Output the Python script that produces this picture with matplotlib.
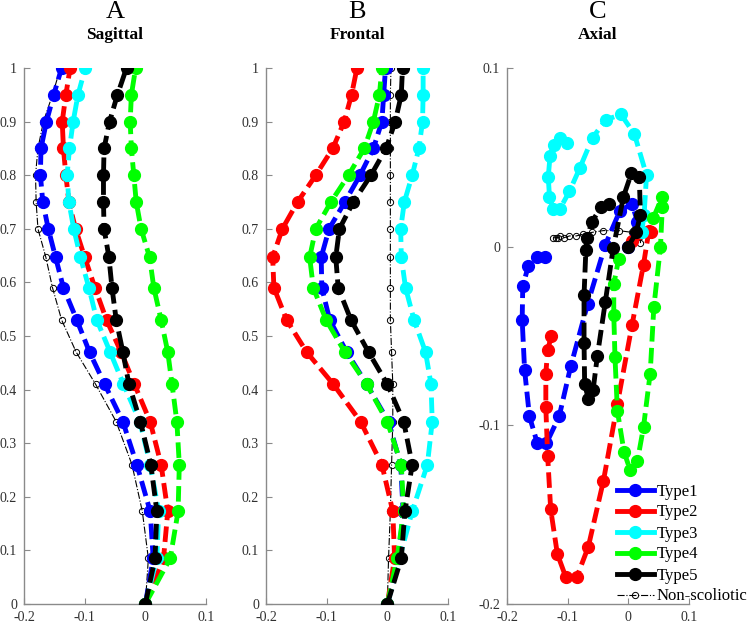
import os
import matplotlib
matplotlib.use("Agg")
import matplotlib.pyplot as plt
from matplotlib import font_manager
from matplotlib.lines import Line2D

# look for a Times-like serif face on the system and register it
serif_names = []
for path in font_manager.findSystemFonts():
    base = os.path.basename(path).lower()
    if ('liberationserif' in base or 'times' in base or 'nimbusroman' in base
            or 'dejavuserif' in base or ('serif' in base and 'sans' not in base)):
        try:
            font_manager.fontManager.addfont(path)
            name = font_manager.FontProperties(fname=path).get_name()
            if name not in serif_names:
                serif_names.append(name)
        except Exception:
            pass
pref = ['Liberation Serif', 'Times New Roman', 'Nimbus Roman', 'DejaVu Serif']
serif_pick = [n for n in pref if n in serif_names] or serif_names[:1]
plt.rcParams['font.family'] = serif_pick + ['DejaVu Sans']
plt.rcParams['axes.unicode_minus'] = False

# normalised height levels (bottom -> top)
levels = [0, 0.085, 0.173, 0.26, 0.34, 0.41, 0.47, 0.53, 0.59, 0.647,
          0.70, 0.75, 0.80, 0.85, 0.90, 0.95, 1.0]

# Sagittal
sag_type1 = [0, 0.013, 0.008, -0.014, -0.037, -0.067, -0.092, -0.113, -0.135, -0.148,
             -0.160, -0.169, -0.173, -0.172, -0.163, -0.151, -0.138]
sag_type2 = [0, 0.030, 0.037, 0.026, 0.008, -0.018, -0.040, -0.064, -0.083, -0.100,
             -0.115, -0.126, -0.131, -0.135, -0.137, -0.131, -0.124]
sag_type3 = [0, 0.019, 0.022, 0.008, -0.009, -0.036, -0.058, -0.080, -0.093, -0.107,
             -0.118, -0.126, -0.129, -0.125, -0.119, -0.111, -0.099]
sag_type4 = [0, 0.041, 0.054, 0.056, 0.052, 0.044, 0.037, 0.026, 0.014, 0.007,
             -0.007, -0.015, -0.019, -0.023, -0.025, -0.023, -0.016]
sag_type5 = [0, 0.016, 0.019, 0.009, -0.008, -0.027, -0.037, -0.048, -0.055, -0.060,
             -0.068, -0.069, -0.069, -0.068, -0.059, -0.046, -0.031]
sag_normal = [0, 0.005, -0.005, -0.022, -0.048, -0.082, -0.114, -0.138, -0.153, -0.164,
              -0.177, -0.180, -0.181, -0.177, -0.168, -0.153, -0.140]

# Frontal
fro_type1 = [0, 0.019, 0.026, 0.022, 0.002, -0.034, -0.067, -0.095, -0.108, -0.109,
             -0.096, -0.070, -0.045, -0.023, -0.009, -0.006, -0.003]
fro_type2 = [0, 0.012, 0.009, -0.009, -0.044, -0.089, -0.133, -0.166, -0.187, -0.189,
             -0.173, -0.148, -0.118, -0.090, -0.071, -0.059, -0.050]
fro_type3 = [0, 0.020, 0.041, 0.066, 0.074, 0.072, 0.063, 0.044, 0.030, 0.023,
             0.022, 0.028, 0.041, 0.052, 0.058, 0.059, 0.059]
fro_type4 = [0, 0.016, 0.027, 0.023, 0.000, -0.034, -0.070, -0.101, -0.122, -0.128,
             -0.118, -0.093, -0.064, -0.038, -0.023, -0.013, -0.009]
fro_type5 = [0, 0.023, 0.029, 0.041, 0.027, 0.000, -0.031, -0.060, -0.081, -0.085,
             -0.079, -0.056, -0.027, -0.002, 0.013, 0.023, 0.025]
fro_normal = [0, 0.002, 0.005, 0.007, 0.009, 0.009, 0.007, 0.005, 0.005, 0.005,
              0.005, 0.005, 0.005, 0.005, 0.005, 0.005, 0.006]

# Axial (x, y pairs)
axi_type1_x = [0.000, 0.015, 0.006, -0.014, -0.038, -0.067, -0.095, -0.114, -0.135,
               -0.150, -0.163, -0.171, -0.175, -0.174, -0.165, -0.151, -0.138]
axi_type1_y = [0.000, 0.014, 0.024, 0.020, 0.001, -0.032, -0.067, -0.095, -0.110,
               -0.110, -0.095, -0.069, -0.041, -0.022, -0.011, -0.006, -0.006]
axi_type2_x = [0.006, 0.038, 0.034, 0.025, 0.006, -0.018, -0.041, -0.066, -0.085,
               -0.103, -0.117, -0.128, -0.133, -0.136, -0.136, -0.133, -0.127]
axi_type2_y = [0.003, 0.008, 0.009, -0.010, -0.044, -0.088, -0.131, -0.168, -0.185,
               -0.185, -0.172, -0.147, -0.117, -0.090, -0.071, -0.058, -0.050]
axi_type3_x = [0.022, 0.026, 0.030, 0.010, -0.012, -0.037, -0.059, -0.080, -0.097,
               -0.113, -0.124, -0.130, -0.132, -0.129, -0.123, -0.113, -0.101]
axi_type3_y = [0.008, 0.018, 0.040, 0.063, 0.074, 0.071, 0.061, 0.044, 0.031,
               0.021, 0.021, 0.028, 0.039, 0.051, 0.057, 0.061, 0.058]
axi_type4_x = [0.041, 0.056, 0.056, 0.053, 0.042, 0.036, 0.025, 0.015, 0.003,
               -0.007, -0.018, -0.022, -0.024, -0.024, -0.016]
axi_type4_y = [0.016, 0.028, 0.022, 0.000, -0.034, -0.071, -0.101, -0.120, -0.125,
               -0.115, -0.092, -0.062, -0.038, -0.021, -0.007]
axi_type5_x = [0.000, 0.013, 0.020, 0.018, 0.005, -0.008, -0.025, -0.038, -0.051, -0.058,
               -0.066, -0.072, -0.073, -0.073, -0.070, -0.068, -0.060, -0.045, -0.032]
axi_type5_y = [0.000, 0.008, 0.018, 0.039, 0.041, 0.028, -0.001, -0.031, -0.061, -0.080,
               -0.085, -0.077, -0.054, -0.027, -0.002, 0.005, 0.014, 0.022, 0.024]
axi_normal_x = [-0.124, -0.120, -0.116, -0.112, -0.106, -0.097, -0.086, -0.074, -0.060,
                -0.041, -0.016, 0.006, 0.020, 0.020]
axi_normal_y = [0.005, 0.005, 0.005, 0.006, 0.005, 0.006, 0.006, 0.007, 0.008,
                0.009, 0.009, 0.008, 0.006, 0.002]

type_names = ['Type1', 'Type2', 'Type3', 'Type4', 'Type5']
normal_name = 'Non-scoliotic'
type_colors = ['#0000ff', '#ff0000', '#00ffff', '#00ff00', '#000000']

xticks = [-0.2, -0.1, 0, 0.1]
xtick_labels = ['-0.2', '-0.1', '0', '0.1']
yticks_ab = [0, 0.1, 0.2, 0.3, 0.4, 0.5, 0.6, 0.7, 0.8, 0.9, 1]
ytick_labels_ab = ['0', '0.1', '0.2', '0.3', '0.4', '0.5', '0.6', '0.7', '0.8', '0.9', '1']
yticks_c = [-0.2, -0.1, 0, 0.1]
ytick_labels_c = ['-0.2', '-0.1', '0', '0.1']

letters = ['A', 'B', 'C']
titles = ['Sagittal', 'Frontal', 'Axial']

spine_col = '#8a8a8a'

fig = plt.figure(figsize=(7.47, 6.24), dpi=100)
lefts = [24 / 747, 266 / 747, 507 / 747]
axes = [fig.add_axes([l, 20 / 624, 182 / 747, 536 / 624]) for l in lefts]

type_style = dict(linestyle='--', linewidth=3.5, marker='o', markersize=8.5,
                  dashes=(3.2, 1.3), zorder=3)
normal_style = dict(color='black', linestyle='-.', linewidth=0.8, marker='o',
                    markersize=4.5, markerfacecolor='none', markeredgewidth=0.7)

sag = [sag_type1, sag_type2, sag_type3, sag_type4, sag_type5]
fro = [fro_type1, fro_type2, fro_type3, fro_type4, fro_type5]
for ax, series, normal in [(axes[0], sag, sag_normal), (axes[1], fro, fro_normal)]:
    for xs, c in zip(series, type_colors):
        ax.plot(xs, levels, color=c, **type_style)
    ax.plot(normal, levels, zorder=2, **normal_style)
    ax.set_ylim(0, 1)
    ax.set_yticks(yticks_ab)
    ax.set_yticklabels(ytick_labels_ab)

axi = [(axi_type1_x, axi_type1_y), (axi_type2_x, axi_type2_y), (axi_type3_x, axi_type3_y),
       (axi_type4_x, axi_type4_y), (axi_type5_x, axi_type5_y)]
for (xs, ys), c in zip(axi, type_colors):
    axes[2].plot(xs, ys, color=c, **type_style)
axes[2].plot(axi_normal_x, axi_normal_y, zorder=2, **normal_style)
axes[2].set_ylim(-0.2, 0.1)
axes[2].set_yticks(yticks_c)
axes[2].set_yticklabels(ytick_labels_c)

for ax, letter, title in zip(axes, letters, titles):
    ax.set_xlim(-0.2, 0.1)
    ax.set_xticks(xticks)
    ax.set_xticklabels(xtick_labels)
    for s in ['top', 'right']:
        ax.spines[s].set_visible(False)
    for s in ['left', 'bottom']:
        ax.spines[s].set_color(spine_col)
        ax.spines[s].set_linewidth(1.0)
    ax.tick_params(direction='in', length=4, width=0.8, color=spine_col,
                   labelcolor='#303030', labelsize=10, pad=5)
    pos = ax.get_position()
    cx = pos.x0 + pos.width / 2
    fig.text(cx, 0.981, letter, ha='center', va='center', fontsize=19)
    fig.text(cx, 0.944, title, ha='center', va='center', fontsize=12.5, fontweight='bold')

handles = [Line2D([], [], color=c, linestyle='-', linewidth=3.5, marker='o', markersize=8.5)
           for c in type_colors]
handles.append(Line2D([], [], **normal_style))
fig.legend(handles, type_names + [normal_name], loc='center left',
           bbox_to_anchor=(617 / 747, 1 - 544 / 624), frameon=False, fontsize=12,
           borderpad=0, borderaxespad=0, handlelength=2.2, handletextpad=0.2,
           labelspacing=0.3)

fig.savefig('out.png', dpi=100)
